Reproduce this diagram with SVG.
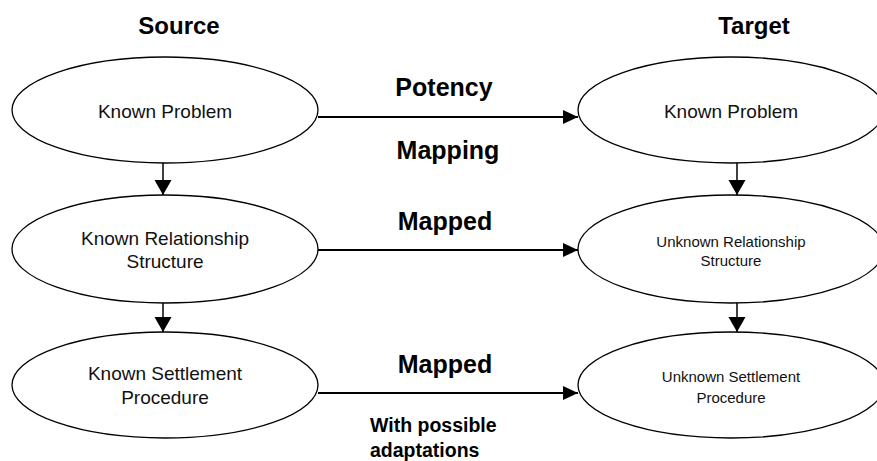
<svg xmlns="http://www.w3.org/2000/svg" width="877" height="461" viewBox="0 0 877 461">
<defs>
<style>
.node ellipse{fill:#fff;stroke:#000;stroke-width:1.3}
.nt{font-family:"Liberation Sans",Arial,sans-serif;font-size:19px;fill:#111;text-anchor:middle}
.ns{font-family:"Liberation Sans",Arial,sans-serif;font-size:15px;fill:#111;text-anchor:middle}
.hd{font-family:"Liberation Sans",Arial,sans-serif;font-weight:bold;font-size:24px;fill:#000;text-anchor:middle}
.lb{font-family:"Liberation Sans",Arial,sans-serif;font-weight:bold;font-size:25px;fill:#000;text-anchor:middle}
.sm{font-family:"Liberation Sans",Arial,sans-serif;font-weight:bold;font-size:19.5px;fill:#000}
.h{stroke:#000;stroke-width:2.2;fill:none}
.v{stroke:#000;stroke-width:1.5;fill:none}
</style>
<marker id="ah" markerUnits="userSpaceOnUse" markerWidth="16" markerHeight="15" refX="15" refY="7" orient="auto">
<path d="M0,0 L15,7 L0,14 Z" fill="#000"/>
</marker>
<marker id="av" markerUnits="userSpaceOnUse" markerWidth="16" markerHeight="18" refX="15" refY="8.5" orient="auto">
<path d="M0,0 L15,8.5 L0,17 Z" fill="#000"/>
</marker>
</defs>
<rect width="877" height="461" fill="#fff"/>
<g id="headers">
<text class="hd" x="179" y="34">Source</text>
<text class="hd" x="754" y="34">Target</text>
</g>
<g id="src-problem" class="node">
<ellipse cx="165" cy="110" rx="153" ry="53"/>
<text class="nt" x="165" y="118">Known Problem</text>
</g>
<g id="src-relationship" class="node">
<ellipse cx="165" cy="249" rx="153" ry="54"/>
<text class="nt" x="165" y="245">Known Relationship</text>
<text class="nt" x="165" y="268">Structure</text>
</g>
<g id="src-settlement" class="node">
<ellipse cx="165" cy="385" rx="153" ry="53"/>
<text class="nt" x="165" y="380">Known Settlement</text>
<text class="nt" x="165" y="404">Procedure</text>
</g>
<g id="tgt-problem" class="node">
<ellipse cx="731" cy="110" rx="153" ry="53"/>
<text class="nt" x="731" y="118">Known Problem</text>
</g>
<g id="tgt-relationship" class="node">
<ellipse cx="731" cy="249" rx="153" ry="54"/>
<text class="ns" x="731" y="247">Unknown Relationship</text>
<text class="ns" x="731" y="266">Structure</text>
</g>
<g id="tgt-settlement" class="node">
<ellipse cx="731" cy="385" rx="153" ry="53"/>
<text class="ns" x="731" y="382">Unknown Settlement</text>
<text class="ns" x="731" y="403">Procedure</text>
</g>
<g id="connectors">
<line class="h" x1="318" y1="117" x2="578" y2="117" marker-end="url(#ah)"/>
<line class="h" x1="318" y1="250" x2="578" y2="250" marker-end="url(#ah)"/>
<line class="h" x1="318" y1="393" x2="578" y2="393" marker-end="url(#ah)"/>
<line class="v" x1="163" y1="163" x2="163" y2="195" marker-end="url(#av)"/>
<line class="v" x1="163" y1="303" x2="163" y2="332" marker-end="url(#av)"/>
<line class="v" x1="737" y1="163" x2="737" y2="195" marker-end="url(#av)"/>
<line class="v" x1="737" y1="303" x2="737" y2="332" marker-end="url(#av)"/>
</g>
<g id="labels">
<text class="lb" x="444" y="96">Potency</text>
<text class="lb" x="448" y="159">Mapping</text>
<text class="lb" x="445" y="230">Mapped</text>
<text class="lb" x="445" y="373">Mapped</text>
<text class="sm" x="370" y="432">With possible</text>
<text class="sm" x="370" y="457">adaptations</text>
</g>
</svg>
